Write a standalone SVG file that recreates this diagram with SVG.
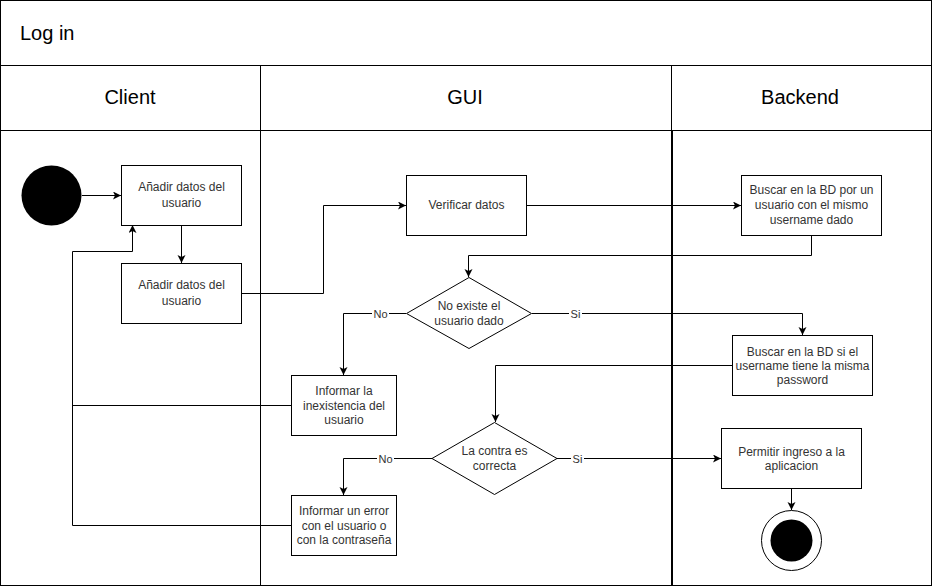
<svg xmlns="http://www.w3.org/2000/svg" width="932" height="586" viewBox="0 0 932 586">
<style>
.box{fill:#fff;stroke:#000;stroke-width:1}
.t{font-family:"Liberation Sans",Arial,sans-serif;font-size:12px;fill:#333;text-anchor:middle}
.h{font-family:"Liberation Sans",Arial,sans-serif;font-size:20px;fill:#000;text-anchor:middle}
.c{fill:none;stroke:#000;stroke-width:1}
.lbl{font-family:"Liberation Sans",Arial,sans-serif;font-size:11px;fill:#333;text-anchor:middle}
</style>
<defs>
<marker id="a" markerUnits="userSpaceOnUse" markerWidth="10" markerHeight="10" refX="8" refY="4" orient="auto">
<path d="M0,0 L8,4 L0,8 L2,4 z" fill="#000"/>
</marker>
</defs>
<rect width="932" height="586" fill="#fff"/>
<g id="pool">
<rect x="0.5" y="0.5" width="931" height="585" fill="none" stroke="#000"/>
<line x1="0" y1="65.5" x2="932" y2="65.5" stroke="#000"/>
<line x1="0" y1="130.5" x2="932" y2="130.5" stroke="#000"/>
<line x1="260.5" y1="65" x2="260.5" y2="586" stroke="#000"/>
<line x1="671.5" y1="65" x2="671.5" y2="130" stroke="#000"/>
<line x1="672" y1="130" x2="672" y2="586" stroke="#000" stroke-width="2"/>
<text x="20" y="40" font-family="Liberation Sans,Arial,sans-serif" font-size="20" fill="#000">Log in</text>
<text class="h" x="130" y="104">Client</text>
<text class="h" x="465" y="104">GUI</text>
<text class="h" x="800" y="104">Backend</text>
</g>
<g id="connectors">
<path class="c" d="M82,195.5 H121" marker-end="url(#a)"/>
<path class="c" d="M181.5,225 V263" marker-end="url(#a)"/>
<path class="c" d="M241,293.5 H323.5 V205.5 H406" marker-end="url(#a)"/>
<path class="c" d="M526,205.5 H741" marker-end="url(#a)"/>
<path class="c" d="M811.5,235 V255.5 H468.5 V277" marker-end="url(#a)"/>
<path class="c" d="M406,313.5 H343.5 V375" marker-end="url(#a)"/>
<path class="c" d="M532,313.5 H802.5 V335" marker-end="url(#a)"/>
<path class="c" d="M732,365.5 H495.5 V422" marker-end="url(#a)"/>
<path class="c" d="M432,458.5 H343.5 V495" marker-end="url(#a)"/>
<path class="c" d="M557,458.5 H721" marker-end="url(#a)"/>
<path class="c" d="M791.5,488 V510" marker-end="url(#a)"/>
<path class="c" d="M291,405.5 H72.5"/>
<path class="c" d="M291,525.5 H72.5 V251.5 H132.5 V225" marker-end="url(#a)"/>
<rect x="372" y="306" width="17" height="14" fill="#fff"/>
<text class="lbl" x="380.5" y="317.5">No</text>
<rect x="569" y="306" width="13" height="14" fill="#fff"/>
<text class="lbl" x="575.5" y="317.5">Si</text>
<rect x="377" y="451" width="17" height="14" fill="#fff"/>
<text class="lbl" x="385.5" y="462.5">No</text>
<rect x="571" y="451" width="13" height="14" fill="#fff"/>
<text class="lbl" x="577.5" y="462.5">Si</text>
</g>
<g id="start"><circle cx="51.5" cy="195.5" r="30" fill="#000"/></g>
<g id="n1"><rect class="box" x="121.5" y="165.5" width="120" height="60"/>
<text class="t" x="181.5" y="191">Añadir datos del</text><text class="t" x="181.5" y="207">usuario</text></g>
<g id="n2"><rect class="box" x="121.5" y="263.5" width="120" height="60"/>
<text class="t" x="181.5" y="289">Añadir datos del</text><text class="t" x="181.5" y="305">usuario</text></g>
<g id="n3"><rect class="box" x="406.5" y="175.5" width="120" height="60"/>
<text class="t" x="466.5" y="209">Verificar datos</text></g>
<g id="n4"><rect class="box" x="741.5" y="175.5" width="140" height="60"/>
<text class="t" x="811.5" y="194">Buscar en la BD por un</text><text class="t" x="811.5" y="209">usuario con el mismo</text><text class="t" x="811.5" y="224">username dado</text></g>
<g id="d1"><path class="box" d="M406.5,313.5 L469,277.5 L531.5,313.5 L469,348.5 Z"/>
<text class="t" x="469" y="310">No existe el</text><text class="t" x="469" y="325">usuario dado</text></g>
<g id="n5"><rect class="box" x="732.5" y="335.5" width="140" height="60"/>
<text class="t" x="802.5" y="355.5">Buscar en la BD si el</text><text class="t" x="802.5" y="370">username tiene la misma</text><text class="t" x="802.5" y="384">password</text></g>
<g id="n6"><rect class="box" x="291.5" y="375.5" width="105" height="60"/>
<text class="t" x="344" y="395">Informar la</text><text class="t" x="344" y="409.5">inexistencia del</text><text class="t" x="344" y="424">usuario</text></g>
<g id="d2"><path class="box" d="M432,458.5 L494.5,422.5 L557,458.5 L494.5,494.5 Z"/>
<text class="t" x="494.5" y="455">La contra es</text><text class="t" x="494.5" y="470">correcta</text></g>
<g id="n7"><rect class="box" x="291.5" y="495.5" width="105" height="60"/>
<text class="t" x="344" y="515">Informar un error</text><text class="t" x="344" y="529.5">con el usuario o</text><text class="t" x="344" y="544">con la contraseña</text></g>
<g id="n8"><rect class="box" x="721.5" y="428.5" width="140" height="60"/>
<text class="t" x="791.5" y="456">Permitir ingreso a la</text><text class="t" x="791.5" y="470">aplicacion</text></g>
<g id="end"><circle cx="791.5" cy="540.5" r="30" fill="#fff" stroke="#000"/><circle cx="791.5" cy="540.5" r="21" fill="#000"/></g>
</svg>
